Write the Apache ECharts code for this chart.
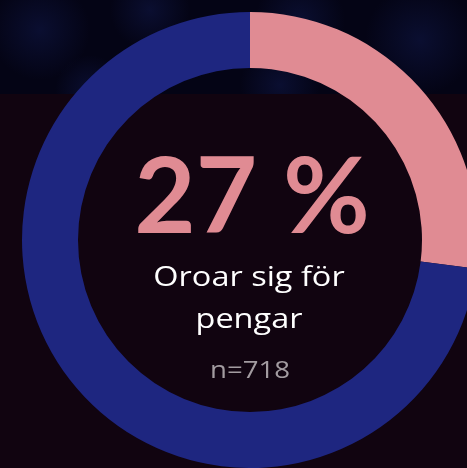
<!DOCTYPE html>
<html>
<head>
<meta charset="utf-8">
<script src="https://cdn.jsdelivr.net/npm/echarts@6/dist/echarts.min.js"></script>
<style>
  html, body { margin: 0; padding: 0; background: #110410; }
  #chart { width: 467px; height: 468px; }
</style>
</head>
<body>
<div id="chart"></div>
<script>
  var categories = ['Oroar sig för pengar', 'Övriga'];
  var values = [27, 73];
  var colors = ['#e08b93', '#1e2680'];
  var bigLabel = '27 %';
  var subLabel = ['Oroar sig för', 'pengar'];
  var nLabel = 'n=718';

  var chart = echarts.init(document.getElementById('chart'), null, { renderer: 'canvas' });

  // blurred blue blobs in the top band
  var blobs = [[40, 30, 50], [150, 10, 40], [300, 20, 45], [420, 40, 55], [280, 85, 40], [90, 90, 35]];
  var graphics = [{
    type: 'rect', z: -10, silent: true,
    shape: { x: 0, y: 0, width: 467, height: 94 },
    style: { fill: '#040415' }
  }];
  blobs.forEach(function (b) {
    graphics.push({
      type: 'circle', z: -9, silent: true,
      shape: { cx: b[0], cy: b[1], r: b[2] },
      style: {
        fill: new echarts.graphic.RadialGradient(0.5, 0.5, 0.5, [
          { offset: 0, color: 'rgba(20,30,90,0.4)' },
          { offset: 1, color: 'rgba(20,30,90,0)' }
        ])
      }
    });
  });
  graphics.push({
    type: 'rect', z: -9, silent: true,
    shape: { x: 0, y: 94, width: 467, height: 374 },
    style: { fill: '#110410' }
  });
  graphics.push({
    type: 'text', z: 10, x: 252, y: 146,
    style: { text: bigLabel, fill: '#e08b93', font: 'bold 106px Lato', textAlign: 'center' }
  });
  // the original face is a wide rounded font, so stretch a little
  graphics.push({
    type: 'text', z: 10, x: 249, y: 257, scaleX: 1.16,
    style: { text: subLabel.join('\n'), fill: '#ffffff', font: '28px "Open Sans"', textAlign: 'center', lineHeight: 42 }
  });
  graphics.push({
    type: 'text', z: 10, x: 250, y: 359, scaleX: 1.15,
    style: { text: nLabel, fill: '#a39ca1', font: '24px "Open Sans"', textAlign: 'center' }
  });

  var option = {
    backgroundColor: '#110410',
    animation: false,
    graphic: graphics,
    series: [{
      type: 'pie',
      center: [250, 240],
      radius: [172, 228],
      startAngle: 90,
      clockwise: true,
      silent: true,
      label: { show: false },
      labelLine: { show: false },
      data: categories.map(function (c, i) {
        return { name: c, value: values[i], itemStyle: { color: colors[i] } };
      })
    }]
  };

  chart.setOption(option);
  window.addEventListener('resize', chart.resize);
</script>
</body>
</html>
